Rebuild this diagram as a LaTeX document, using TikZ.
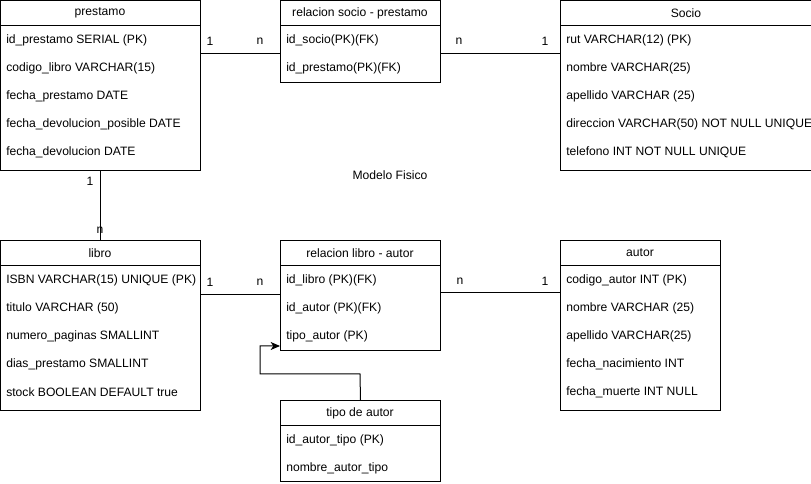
\documentclass[tikz,border=0pt]{standalone}
\usepackage{fontspec}
\setmainfont{Liberation Sans}
\usetikzlibrary{arrows.meta}
\begin{document}
\begin{tikzpicture}[x=0.75pt,y=-0.75pt,font=\fontsize{9.1}{11}\selectfont,
  tbl/.style 2 args={draw,line width=0.75pt,inner sep=0pt,anchor=north west,
    minimum width=#1*0.75pt,minimum height=#2*0.75pt},
  ttl/.style={inner sep=0pt,anchor=center},
  row/.style={inner sep=0pt,anchor=west},
  card/.style={inner sep=0pt,anchor=center},
  conn/.style={line width=0.75pt},
  hdr/.style={line width=0.75pt}]
\fill[white] (0,0) rectangle (811,484);
\useasboundingbox (0,0) rectangle (811,484);
\begin{scope}
\clip (0,0) rectangle (811,484);
% prestamo
\node[tbl={200}{170}] (prestamo) at (0,0) {};
\draw[hdr] (0,26) -- (200,26);
\node[ttl] (prestamoT) at (100,13) {prestamo};
\node[row] (p1) at (6,40) {id\_prestamo SERIAL (PK)};
\node[row] (p2) at (6,68) {codigo\_libro VARCHAR(15)};
\node[row] (p3) at (6,96) {fecha\_prestamo DATE};
\node[row] (p4) at (6,124) {fecha\_devolucion\_posible DATE};
\node[row] (p5) at (6,152) {fecha\_devolucion DATE};
% relacion socio - prestamo
\node[tbl={160}{82}] (rsp) at (280,0) {};
\draw[hdr] (280,26) -- (440,26);
\node[ttl] (rspT) at (360,13) {relacion socio - prestamo};
\node[row] (rsp1) at (286,40) {id\_socio(PK)(FK)};
\node[row] (rsp2) at (286,68) {id\_prestamo(PK)(FK)};
% Socio
\node[tbl={252}{170}] (socio) at (560,0) {};
\draw[hdr] (560,26) -- (812,26);
\node[ttl] (socioT) at (686,13) {Socio};
\node[row] (s1) at (566,40) {rut VARCHAR(12) (PK)};
\node[row] (s2) at (566,68) {nombre VARCHAR(25)};
\node[row] (s3) at (566,96) {apellido VARCHAR (25)};
\node[row] (s4) at (566,124) {direccion VARCHAR(50) NOT NULL UNIQUE};
\node[row] (s5) at (566,152) {telefono INT NOT NULL UNIQUE};
\end{scope}
% libro
\node[tbl={200}{170}] (libro) at (0,240) {};
\draw[hdr] (0,266) -- (200,266);
\node[ttl] (libroT) at (100,253) {libro};
\node[row] (l1) at (6,280) {ISBN VARCHAR(15) UNIQUE (PK)};
\node[row] (l2) at (6,308) {titulo VARCHAR (50)};
\node[row] (l3) at (6,336) {numero\_paginas SMALLINT};
\node[row] (l4) at (6,364) {dias\_prestamo SMALLINT};
\node[row] (l5) at (6,392) {stock BOOLEAN DEFAULT true};
% relacion libro - autor
\node[tbl={160}{110}] (rla) at (280,240) {};
\draw[hdr] (280,266) -- (440,266);
\node[ttl] (rlaT) at (360,253) {relacion libro - autor};
\node[row] (rla1) at (286,280) {id\_libro (PK)(FK)};
\node[row] (rla2) at (286,308) {id\_autor (PK)(FK)};
\node[row] (rla3) at (286,336) {tipo\_autor (PK)};
% autor
\node[tbl={160}{170}] (autor) at (560,240) {};
\draw[hdr] (560,266) -- (720,266);
\node[ttl] (autorT) at (640,253) {autor};
\node[row] (a1) at (566,280) {codigo\_autor INT (PK)};
\node[row] (a2) at (566,308) {nombre VARCHAR (25)};
\node[row] (a3) at (566,336) {apellido VARCHAR(25)};
\node[row] (a4) at (566,364) {fecha\_nacimiento INT};
\node[row] (a5) at (566,392) {fecha\_muerte INT NULL};
% tipo de autor
\node[tbl={160}{81}] (tipo) at (280,400) {};
\draw[hdr] (280,426) -- (440,426);
\node[ttl] (tipoT) at (360,413) {tipo de autor};
\node[row] (t1) at (286,440) {id\_autor\_tipo (PK)};
\node[row] (t2) at (286,468) {nombre\_autor\_tipo};
% connectors
\draw[conn] ([yshift=-54*0.75pt]prestamo.north east) -- ([yshift=-54*0.75pt]rsp.north west);
\draw[conn] ([yshift=-54*0.75pt]rsp.north east) -- ([yshift=-54*0.75pt]socio.north west);
\draw[conn] (prestamo.south) -- (libro.north);
\draw[conn] ([yshift=-55*0.75pt]libro.north east) -- ([yshift=-55*0.75pt]rla.north west);
\draw[conn] ([yshift=-53*0.75pt]rla.north east) -- ([yshift=-53*0.75pt]autor.north west);
\coordinate (b1) at (360,374);
\coordinate (b2) at (260,374);
\coordinate (b3) at (260,346);
\draw[conn,-{Stealth[length=7pt,width=6pt,inset=2pt]}] (tipo.north) -- (b1) -- (b2) -- (b3) -- (rla.west |- b3);
% cardinalities
\node[card] (c1) at (210,41) {1};
\node[card] (c2) at (260,41) {n};
\node[card] (c3) at (459,41) {n};
\node[card] (c4) at (545,41) {1};
\node[card] (c5) at (90,181) {1};
\node[card] (c6) at (100,230) {n};
\node[card] (c7) at (210,282) {1};
\node[card] (c8) at (260,282) {n};
\node[card] (c9) at (460,281) {n};
\node[card] (c10) at (545,281) {1};
\node[card] (mf) at (390,175) {Modelo Fisico};
\end{tikzpicture}
\end{document}
